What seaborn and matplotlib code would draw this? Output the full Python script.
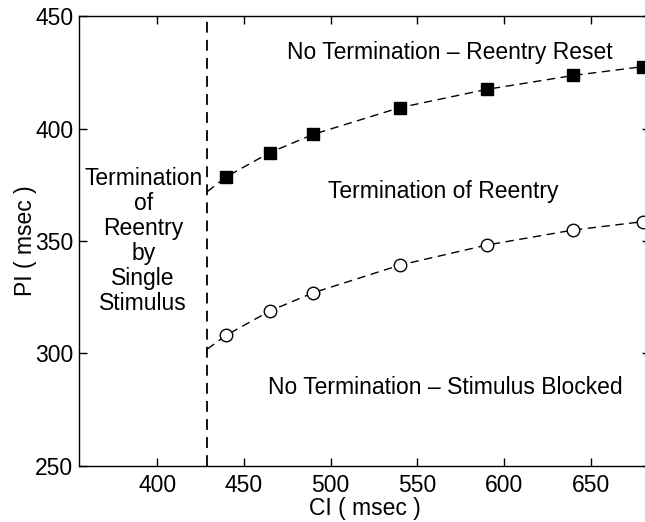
import pandas as pd
import seaborn as sns
import matplotlib.pyplot as plt

# values
ci = [440, 465, 490, 540, 590, 640, 680]
pi_reset = [378.6, 389.3, 397.4, 409.3, 417.4, 423.6, 427.5]
pi_blocked = [308.2, 318.9, 327.0, 339.3, 348.2, 354.9, 358.6]

# dashed fit curves, start at the boundary line
ci_fit = [429, 440, 465, 490, 540, 590, 640, 680]
fit_reset = [372.0, 378.6, 389.3, 397.4, 409.3, 417.4, 423.6, 427.5]
fit_blocked = [302.0, 308.2, 318.9, 327.0, 339.3, 348.2, 354.9, 358.6]

boundary_ci = 429

sns.set_style("ticks")
plt.rcParams['font.family'] = ['Liberation Sans', 'DejaVu Sans']
plt.rcParams['text.color'] = 'black'
plt.rcParams['axes.labelcolor'] = 'black'

fig = plt.figure(figsize=(6.45, 5.22), dpi=100)
ax = fig.add_axes([0.1225, 0.1073, 0.885, 0.862])

pts = pd.DataFrame({"CI": ci, "reset": pi_reset, "blocked": pi_blocked})
fit = pd.DataFrame({"CI": ci_fit, "reset": fit_reset, "blocked": fit_blocked})

sns.lineplot(data=fit, x="CI", y="reset", ax=ax, color="black", lw=1.0,
             dashes=False, linestyle=(0, (6, 4)))
sns.lineplot(data=fit, x="CI", y="blocked", ax=ax, color="black", lw=1.0,
             dashes=False, linestyle=(0, (6, 4)))
ax.plot(pts["CI"], pts["reset"], "s", color="black", ms=8.3, zorder=3)
ax.plot(pts["CI"], pts["blocked"], "o", mfc="white", mec="black", mew=1.0,
        ms=9.0, zorder=3)

ax.axvline(boundary_ci, color="black", lw=1.3, linestyle=(0, (6, 4)))

ax.set_xlim(355, 684)
ax.set_ylim(250, 450)
ax.set_xticks([400, 450, 500, 550, 600, 650])
ax.set_yticks([250, 300, 350, 400, 450])
ax.tick_params(direction="in", top=True, right=True, length=6, width=1,
               labelsize=16.5, colors="black", pad=4)
ax.tick_params(axis="x", pad=6)
for s in ax.spines.values():
    s.set_linewidth(1.0)
    s.set_color("black")

ax.set_xlabel("CI ( msec )", fontsize=16.5, labelpad=0)
ax.set_ylabel("PI ( msec )", fontsize=16.5, labelpad=-1)

ax.text(569, 434, "No Termination – Reentry Reset", ha="center", va="center", fontsize=16.5)
ax.text(565, 372, "Termination of Reentry", ha="center", va="center", fontsize=16.5)
ax.text(566, 285, "No Termination – Stimulus Blocked", ha="center", va="center", fontsize=16.5)
ax.text(392, 350, "Termination\nof\nReentry\nby\nSingle\nStimulus", ha="center",
        va="center", fontsize=16.5, linespacing=1.12)

fig.savefig("out.png", dpi=100)
